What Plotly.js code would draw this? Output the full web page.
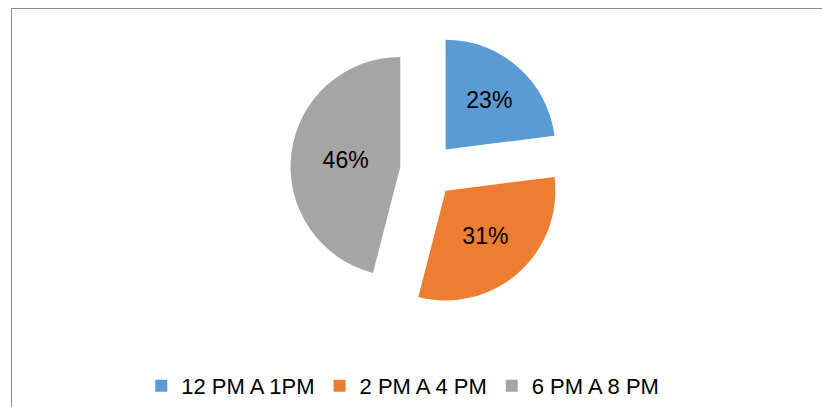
<!DOCTYPE html>
<html>
<head>
<meta charset="utf-8">
<script src="https://cdn.plot.ly/plotly-3.0.1.min.js"></script>
<style>
  html, body { margin: 0; padding: 0; background: #ffffff; overflow: hidden; }
  #frame { position: absolute; left: 11px; top: 8px; width: 830px; height: 420px;
           border-left: 1px solid #8c8c8c; border-top: 1px solid #8c8c8c; box-sizing: border-box; }
  #chart { position: absolute; left: 0; top: 0; width: 822px; height: 407px; }
</style>
</head>
<body>
<div id="frame"></div>
<div id="chart"></div>
<script>
// Data
const categories = ["12 PM A 1PM", "2 PM A 4 PM", "6 PM A 8 PM"];
const shares = [23, 31, 46];
const sliceColors = ["#5B9BD5", "#ED7D31", "#A5A5A5"];

const W = 822, H = 407;

const trace = {
  type: "pie",
  labels: categories,
  values: shares,
  sort: false,
  direction: "clockwise",
  rotation: 0,
  pull: [0.25, 0.25, 0.25],
  marker: { colors: sliceColors, line: { width: 0 } },
  textinfo: "percent",
  textposition: "inside",
  insidetextorientation: "horizontal",
  textfont: { family: "Liberation Sans, Arial, sans-serif", size: 23, color: "#000000" },
  hoverinfo: "label+percent",
  domain: { x: [290 / W, 565 / W], y: [1 - 308 / H, 1 - 33 / H] }
};

const layout = {
  width: W,
  height: H,
  margin: { l: 0, r: 0, t: 0, b: 0 },
  paper_bgcolor: "rgba(0,0,0,0)",
  plot_bgcolor: "rgba(0,0,0,0)",
  showlegend: true,
  legend: {
    orientation: "h",
    x: 0.49, xanchor: "center",
    y: 1 - 387 / H, yanchor: "middle",
    font: { family: "Liberation Sans, Arial, sans-serif", size: 22, color: "#000000" },
    itemclick: false
  }
};

Plotly.newPlot("chart", [trace], layout, { displayModeBar: false, staticPlot: true });
</script>
</body>
</html>
